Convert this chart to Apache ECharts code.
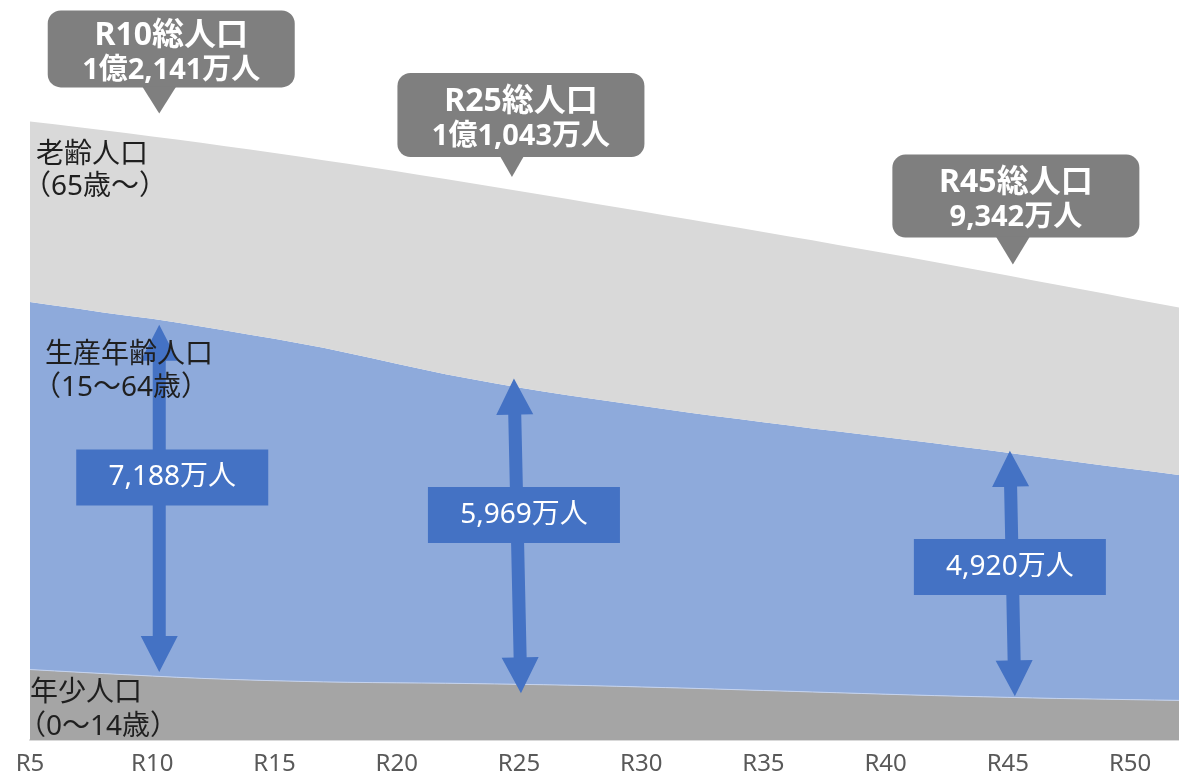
<!DOCTYPE html>
<html>
<head>
<meta charset="utf-8">
<title>将来推計人口</title>
<script src="https://cdn.jsdelivr.net/npm/echarts@6/dist/echarts.min.js"></script>
<style>
  html, body { margin: 0; padding: 0; background: #fff; }
  #main { width: 1179px; height: 776px; }
</style>
</head>
<body>
<div id="main"></div>
<script>
// 年次（令和5年〜令和52年）
var categories = ['R5','R6','R7','R8','R9','R10','R11','R12','R13','R14','R15','R16','R17','R18','R19','R20',
  'R21','R22','R23','R24','R25','R26','R27','R28','R29','R30','R31','R32','R33','R34','R35','R36',
  'R37','R38','R39','R40','R41','R42','R43','R44','R45','R46','R47','R48','R49','R50','R51','R52'];
var tickLabels = ['R5','R10','R15','R20','R25','R30','R35','R40','R45','R50'];

// 単位：万人
var children = [1417,1390,1363,1336,1311,1286,1262,1240,1222,1206,1192,1180,1169,1161,1155,1150,
  1146,1142,1135,1128,1120,1112,1103,1092,1080,1067,1054,1041,1026,1011,996,981,
  966,951,936,921,907,893,881,869,858,847,836,828,820,812,804,797];
var working = [7395,7352,7310,7264,7225,7188,7135,7076,7013,6946,6877,6802,6722,6623,6522,6419,
  6316,6213,6131,6050,5969,5900,5832,5773,5714,5656,5598,5540,5492,5444,5397,5350,
  5302,5257,5213,5168,5123,5078,5025,4972,4920,4865,4809,4754,4699,4644,4590,4535];
var elderly = [3629,3642,3653,3666,3669,3667,3680,3696,3710,3725,3739,3755,3773,3806,3838,3870,
  3900,3929,3939,3946,3954,3950,3945,3933,3922,3911,3899,3888,3867,3847,3826,3804,
  3783,3756,3728,3701,3673,3644,3618,3592,3564,3538,3514,3485,3456,3427,3397,3368];

// 吹き出しを付ける年
var highlight = ['R10', 'R25', 'R45'];

var FONT = '"Noto Sans", "Noto Sans CJK JP", sans-serif';

var chart = echarts.init(document.getElementById('main'));

chart.setOption({
  animation: false,
  grid: { left: 30, right: -3, top: 44, bottom: 36 },
  xAxis: {
    type: 'category',
    data: categories,
    boundaryGap: false,
    axisLine: { lineStyle: { color: '#d9d9d9', width: 2 } },
    axisTick: { show: false },
    axisLabel: {
      interval: function (i, v) { return tickLabels.indexOf(v) >= 0; },
      color: '#595959',
      fontSize: 24,
      fontFamily: FONT,
      margin: 12
    },
    splitLine: { show: false }
  },
  yAxis: {
    type: 'value',
    min: 0,
    max: 14000,
    show: false
  },
  series: [
    {
      name: '年少人口', type: 'line', stack: 'pop', data: children,
      symbol: 'none', lineStyle: { width: 1, color: '#c5d3ee' },
      areaStyle: { color: '#a5a5a5', opacity: 1 }
    },
    {
      name: '生産年齢人口', type: 'line', stack: 'pop', data: working,
      symbol: 'none', lineStyle: { width: 0 },
      areaStyle: { color: '#8eaadb', opacity: 1 }
    },
    {
      name: '老齢人口', type: 'line', stack: 'pop', data: elderly,
      symbol: 'none', lineStyle: { width: 0 },
      areaStyle: { color: '#d9d9d9', opacity: 1 }
    }
  ]
});

// 注記の配置（ピクセルの微調整）
var calloutLayout = [
  { tipDx: 7, tipDy: -23, boxDx: 12, boxH: 77, tailH: 26, tailW: 34 },
  { tipDx: -7, tipDy: -14, boxDx: 9, boxH: 84, tailH: 20, tailW: 24 },
  { tipDx: 5, tipDy: -11, boxDx: 3, boxH: 83, tailH: 27, tailW: 34 }
];
var arrowLayout = [
  { top: [7, 6], bottom: [7, -4], boxDx: 20, boxDy: -20 },
  { top: [-5, -9], bottom: [2, 9], boxDx: 5, boxDy: -21 },
  { top: [2, -2], bottom: [7, -1], boxDx: 2, boxDy: -8 }
];

function fmt(n) {
  return String(n).replace(/\B(?=(\d{3})+(?!\d))/g, ',');
}
function fmtTotal(n) {
  if (n >= 10000) {
    var rest = n - 10000;
    var s = String(rest);
    while (s.length < 4) s = '0' + s;
    return '1億' + s.charAt(0) + ',' + s.slice(1) + '万人';
  }
  return fmt(n) + '万人';
}

function arrowPoints(a, b, shaft, headW, headL) {
  var dx = b[0] - a[0], dy = b[1] - a[1];
  var len = Math.sqrt(dx * dx + dy * dy);
  var ux = dx / len, uy = dy / len, nx = -uy, ny = ux;
  function p(t, s) { return [a[0] + ux * t + nx * s, a[1] + uy * t + ny * s]; }
  return [p(0, 0), p(headL, headW / 2), p(headL, shaft / 2), p(len - headL, shaft / 2),
    p(len - headL, headW / 2), p(len, 0), p(len - headL, -headW / 2), p(len - headL, -shaft / 2),
    p(headL, -shaft / 2), p(headL, -headW / 2)];
}

function drawNotes() {
  var g = [];

  highlight.forEach(function (cat, k) {
    var i = categories.indexOf(cat);
    var total = children[i] + working[i] + elderly[i];
    var workTop = children[i] + working[i];

    // 総人口の吹き出し
    var top = chart.convertToPixel({ gridIndex: 0 }, [i, total]);
    var c = calloutLayout[k];
    var tipX = top[0] + c.tipDx, tipY = top[1] + c.tipDy;
    var bw = 247, bx = tipX + c.boxDx - bw / 2;
    var bBottom = tipY - c.tailH, by = bBottom - c.boxH;
    var cy = by + c.boxH / 2;
    g.push({ type: 'rect', z: 100, shape: { x: bx, y: by, width: bw, height: c.boxH, r: 13 },
      style: { fill: '#7f7f7f' } });
    g.push({ type: 'polygon', z: 100,
      shape: { points: [[tipX - c.tailW / 2, bBottom - 1], [tipX + c.tailW / 2, bBottom - 1], [tipX, tipY]] },
      style: { fill: '#7f7f7f' } });
    g.push({ type: 'text', z: 101, style: { text: cat + '総人口', x: bx + bw / 2, y: cy - 13,
      fill: '#fff', fontSize: 32, fontWeight: 'bold', fontFamily: FONT, align: 'center', verticalAlign: 'middle' } });
    g.push({ type: 'text', z: 101, style: { text: fmtTotal(total), x: bx + bw / 2, y: cy + 21.5,
      fill: '#fff', fontSize: 29, fontWeight: 'bold', fontFamily: FONT, align: 'center', verticalAlign: 'middle' } });

    // 生産年齢人口の両矢印
    var a = arrowLayout[k];
    var p1 = chart.convertToPixel({ gridIndex: 0 }, [i, workTop]);
    var p2 = chart.convertToPixel({ gridIndex: 0 }, [i, children[i]]);
    var tipTop = [p1[0] + a.top[0], p1[1] + a.top[1]];
    var tipBot = [p2[0] + a.bottom[0], p2[1] + a.bottom[1]];
    g.push({ type: 'polygon', z: 50, shape: { points: arrowPoints(tipTop, tipBot, 13, 37, 36) },
      style: { fill: '#4472c4' } });
    var mx = p1[0] + a.boxDx, my = (p1[1] + p2[1]) / 2 + a.boxDy;
    g.push({ type: 'rect', z: 60, shape: { x: mx - 96, y: my - 28, width: 192, height: 56 },
      style: { fill: '#4472c4' } });
    g.push({ type: 'text', z: 61, style: { text: fmt(working[i]) + '万人', x: mx, y: my,
      fill: '#fff', fontSize: 28, fontFamily: FONT, align: 'center', verticalAlign: 'middle' } });
  });

  // 区分ラベル
  var labels = [
    { t: '老齢人口', x: 36, y: 155 }, { t: '（65歳～）', x: 23, y: 187 },
    { t: '生産年齢人口', x: 45, y: 355 }, { t: '（15～64歳）', x: 33, y: 388 },
    { t: '年少人口', x: 30, y: 693 }, { t: '（0～14歳）', x: 18, y: 727 }
  ];
  labels.forEach(function (l) {
    g.push({ type: 'text', z: 80, style: { text: l.t, x: l.x, y: l.y, fill: '#1f1f1f',
      fontSize: 28, fontFamily: FONT, align: 'left', verticalAlign: 'middle' } });
  });

  chart.setOption({ graphic: g });
}

drawNotes();
</script>
</body>
</html>
